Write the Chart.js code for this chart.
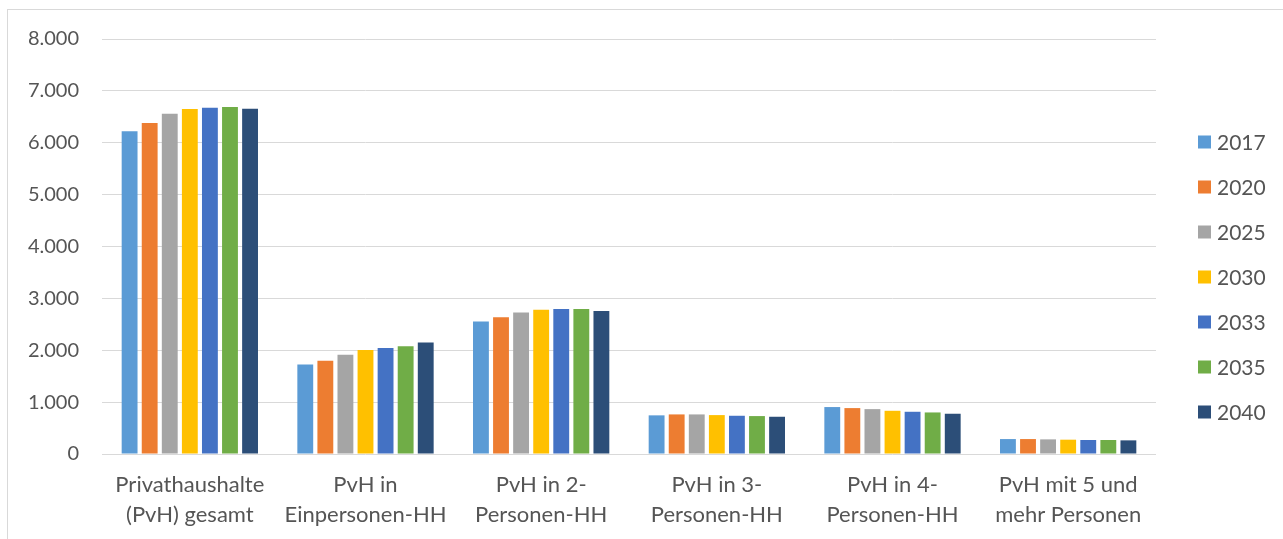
<!DOCTYPE html>
<html>
<head>
<meta charset="utf-8">
<script src="https://cdn.jsdelivr.net/npm/chart.js@4/dist/chart.umd.min.js"></script>
<style>
  html, body { margin: 0; padding: 0; background: #ffffff; }
  #wrap { width: 1283px; height: 539px; position: relative; }
</style>
</head>
<body>
<div id="wrap"><canvas id="c" width="1283" height="539"></canvas></div>
<script>
// Categories (household types)
const categories = [
  ["Privathaushalte", "(PvH) gesamt"],
  ["PvH in", "Einpersonen-HH"],
  ["PvH in 2-", "Personen-HH"],
  ["PvH in 3-", "Personen-HH"],
  ["PvH in 4-", "Personen-HH"],
  ["PvH mit 5 und", "mehr Personen"]
];

// Years shown as series
const years = ["2017", "2020", "2025", "2030", "2033", "2035", "2040"];

// Values in thousands of households, one array per year
const v2017 = [6220, 1725, 2555, 745, 905, 288];
const v2020 = [6380, 1800, 2635, 763, 885, 288];
const v2025 = [6560, 1915, 2730, 763, 865, 282];
const v2030 = [6650, 2005, 2780, 750, 833, 276];
const v2033 = [6675, 2045, 2795, 737, 814, 270];
const v2035 = [6690, 2078, 2795, 731, 801, 270];
const v2040 = [6655, 2148, 2755, 718, 776, 263];

// Y-axis range and tick step
const yMin = 0;
const yMax = 8000;
const yStep = 1000;

const seriesValues = [v2017, v2020, v2025, v2030, v2033, v2035, v2040];
const seriesColors = ["#5B9BD5", "#ED7D31", "#A5A5A5", "#FFC000", "#4472C4", "#70AD47", "#2C4E78"];

const textColor = "#555555";
const gridColor = "#d9d9d9";
const fontFamily = "Lato, 'Open Sans', 'Noto Sans', sans-serif";

function formatDE(n) {
  return String(Math.round(n)).replace(/\B(?=(\d{3})+(?!\d))/g, ".");
}

// Outer frame (left and top edge visible)
const framePlugin = {
  id: "frame",
  beforeDraw(chart) {
    const ctx = chart.ctx;
    ctx.save();
    ctx.strokeStyle = gridColor;
    ctx.lineWidth = 1;
    ctx.strokeRect(7.5, 9.5, 3000, 3000);
    ctx.restore();
  }
};

// Vertical legend on the right
const sideLegend = {
  id: "sideLegend",
  afterDraw(chart) {
    const ctx = chart.ctx;
    ctx.save();
    ctx.font = "21px " + fontFamily;
    ctx.textBaseline = "middle";
    ctx.textAlign = "left";
    chart.data.datasets.forEach((ds, i) => {
      const cy = 142 + 45 * i;
      ctx.fillStyle = ds.backgroundColor;
      ctx.fillRect(1198, cy - 6.5, 13, 13);
      ctx.fillStyle = textColor;
      ctx.fillText(ds.label, 1217, cy + 1);
    });
    ctx.restore();
  }
};

new Chart(document.getElementById("c"), {
  type: "bar",
  data: {
    labels: categories,
    datasets: years.map((y, i) => ({
      label: y,
      data: seriesValues[i],
      backgroundColor: seriesColors[i],
      borderWidth: 0,
      categoryPercentage: 0.8,
      barPercentage: 0.79
    }))
  },
  options: {
    responsive: false,
    animation: false,
    devicePixelRatio: 1,
    layout: { padding: { left: 0, right: 127, top: 39, bottom: 0 } },
    plugins: {
      legend: { display: false },
      tooltip: { enabled: false }
    },
    scales: {
      x: {
        grid: { display: false, drawTicks: false },
        border: { display: false },
        ticks: {
          color: textColor,
          font: { family: fontFamily, size: 22, lineHeight: 30 / 22 },
          padding: 16,
          maxRotation: 0,
          autoSkip: false
        },
        afterFit(scale) { scale.height = 85; }
      },
      y: {
        min: yMin,
        max: yMax,
        grid: { color: gridColor, lineWidth: 1, drawTicks: false },
        border: { display: false },
        ticks: {
          stepSize: yStep,
          color: textColor,
          font: { family: fontFamily, size: 20 },
          padding: 23,
          callback: (v) => formatDE(v)
        },
        afterFit(scale) { scale.width = 102; }
      }
    }
  },
  plugins: [framePlugin, sideLegend]
});
</script>
</body>
</html>
